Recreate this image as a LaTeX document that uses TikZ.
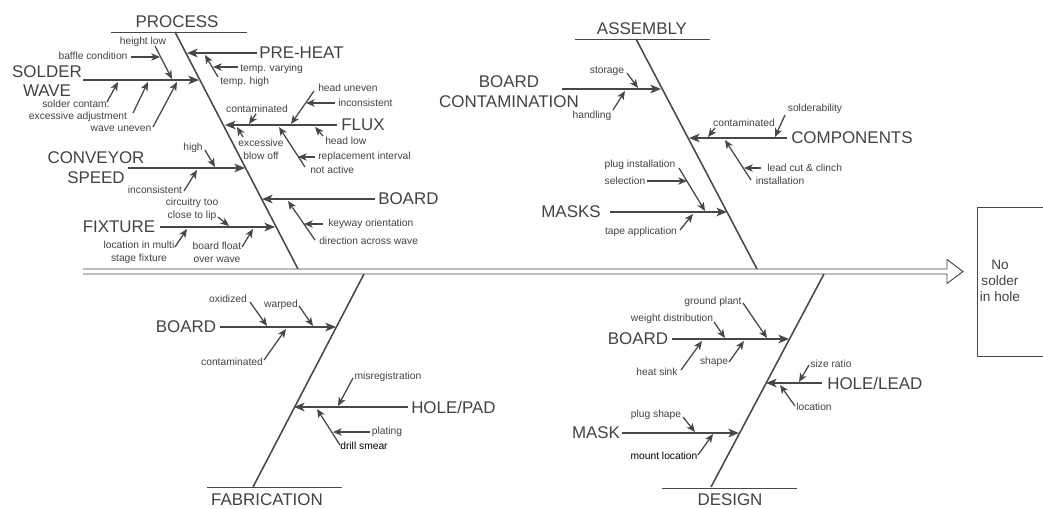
\documentclass[tikz,border=0pt]{standalone}
\usepackage{fontspec}
\setmainfont{Liberation Sans}
\usetikzlibrary{arrows.meta}
\definecolor{ink}{HTML}{424242}
\definecolor{bone}{HTML}{474747}

\tikzset{
  big/.style={font=\fontsize{12.7}{14.8}\selectfont, text=ink, inner sep=0pt, align=center},
  small/.style={font=\fontsize{7.7}{9.6}\selectfont, text=ink, inner sep=0pt, align=center},
  dark/.style={small, text=black},
  boxtext/.style={font=\fontsize{10.2}{12.2}\selectfont, text=ink, inner sep=0pt, align=center},
  mainbone/.style={draw=bone, line width=1.15pt},
  subbone/.style={draw=bone, line width=1.15pt, -{Stealth[length=8pt,width=6.5pt,inset=2.2pt]}},
  twig/.style={draw=bone, line width=0.95pt, -{Stealth[length=6.5pt,width=5.5pt,inset=1.8pt]}},
  rule/.style={draw=bone, line width=0.6pt},
  spine/.style={draw=bone, line width=0.7pt},
}

% arrow between two named coordinates: [style]{name}{start}{tip}
\newcommand\causearrow[4][twig]{%
  \coordinate (#2-s) at #3;\coordinate (#2-t) at #4;\draw[#1] (#2-s) -- (#2-t);}

\begin{document}
\begin{tikzpicture}[x=0.75pt,y=-0.75pt]
\useasboundingbox (0,0) rectangle (1043,508);
\clip (0,0) rectangle (1043,508);

% ---------- effect and spine ----------
\node[draw=bone, line width=0.6pt, anchor=north west, minimum width=75pt, minimum height=111.75pt, inner sep=0pt] (effect) at (977,207) {};
\node[boxtext] (effecttext) at (1000,281) {No\\solder\\in hole};
\coordinate (spL) at (83,271.5);
\coordinate (spTip) at (963,271.5);
\draw[spine] (83,269) -- (947,269) -- (947,259.5) -- (spTip) -- (947,283.5) -- (947,274) -- (83,274);

% ---------- PROCESS ----------
\node[big] (process) at (177,22) {PROCESS};
\coordinate (processRl) at (111,32); \coordinate (processRr) at (247,32);
\draw[rule] (processRl) -- (processRr);
\coordinate (procTop) at (175,32); \coordinate (procEnd) at (298,269);
\draw[mainbone] (procTop) -- (procEnd);

\node[big, anchor=west] (preheat) at (259,53) {PRE-HEAT};
\causearrow[subbone]{ph}{(257,53)}{(187,53)}
\node[small, anchor=west] (tvary) at (240,69) {temp. varying};
\node[small, anchor=west] (thigh) at (220,82) {temp. high};
\causearrow{thd}{(218,77)}{(205,55)}
\causearrow{tvd}{(238,67)}{(213,67)}

\node[big] (solderwave) at (47,81) {SOLDER\\WAVE};
\causearrow[subbone]{sw}{(83,80)}{(199,80)}
\node[small] (heightlow) at (143,42) {height low};
\node[small] (baffle) at (93,56) {baffle condition};
\causearrow{hl}{(155,46)}{(172,79)}
\causearrow{bc}{(131,57)}{(160,57)}
\node[small] (scontam) at (76,104) {solder contam.};
\node[small] (excadj) at (78,117) {excessive adjustment};
\node[small] (wavuneven) at (121,129) {wave uneven};
\causearrow{sc}{(107,102)}{(118,82)}
\causearrow{ea}{(133,113)}{(148,82)}
\causearrow{wu}{(153,127)}{(177,82)}

\node[big, anchor=west] (flux) at (341,125) {FLUX};
\causearrow[subbone]{fx}{(337,125)}{(225,125)}
\node[small] (fcontam) at (257,109) {contaminated};
\causearrow{fc}{(256,114)}{(249,124)}
\node[small] (blowoff) at (261,149) {excessive\\blow off};
\causearrow{bo}{(243,137)}{(237,127)}
\node[small, anchor=west] (headuneven) at (318,88) {head uneven};
\causearrow{hu}{(314,91)}{(291,124)}
\node[small, anchor=west] (finconsist) at (338,103) {inconsistent};
\causearrow{fi}{(335,103)}{(306,103)}
\node[small, anchor=west] (headlow) at (325,141) {head low};
\causearrow{hd}{(323,136)}{(315,127)}
\node[small, anchor=west] (notactive) at (310,170) {not active};
\causearrow{na}{(305,167)}{(279,127)}
\node[small, anchor=west] (replace) at (318,157) {replacement interval};
\causearrow{ri}{(315,157)}{(298,157)}

\node[big] (conveyor) at (96,168) {CONVEYOR\\SPEED};
\causearrow[subbone]{cv}{(128,168)}{(245,168)}
\node[small] (high) at (193,148) {high};
\causearrow{hi}{(205,150)}{(215,167)}
\node[small] (cinconsist) at (155,190) {inconsistent};
\causearrow{ci}{(184,191)}{(197,170)}

\node[big] (fixture) at (119,227) {FIXTURE};
\causearrow[subbone]{fi2}{(160,227)}{(275,227)}
\node[small] (circuitry) at (192,209) {circuitry too\\close to lip};
\causearrow{ct}{(218,217)}{(229,226)}
\node[small] (locmulti) at (139,252) {location in multi\\stage fixture};
\causearrow{lm}{(175,247)}{(187,229)}
\node[small] (boardfloat) at (217,252) {board float\\over wave};
\causearrow{bf}{(242,247)}{(253,229)}

\node[big, anchor=west] (pboard) at (378,199) {BOARD};
\causearrow[subbone]{pb}{(375,199)}{(262,199)}
\node[small, anchor=west] (keyway) at (328,224) {keyway orientation};
\causearrow{kw}{(323,224)}{(304,224)}
\node[small, anchor=west] (direction) at (319,241) {direction across wave};
\causearrow{dw}{(315,240)}{(288,201)}

% ---------- ASSEMBLY ----------
\node[big] (assembly) at (642,29) {ASSEMBLY};
\coordinate (asmRl) at (575,39); \coordinate (asmRr) at (710,39);
\draw[rule] (asmRl) -- (asmRr);
\coordinate (asmTop) at (636,39); \coordinate (asmEnd) at (757,269);
\draw[mainbone] (asmTop) -- (asmEnd);

\node[big] (boardcont) at (509,92) {BOARD\\CONTAMINATION};
\causearrow[subbone]{bcn}{(562,89)}{(661,89)}
\node[small] (storage) at (607,71) {storage};
\causearrow{st}{(627,73)}{(638,88)}
\node[small] (handling) at (592,116) {handling};
\causearrow{hn}{(613,110)}{(625,91)}

\node[big, anchor=west] (components) at (791,138) {COMPONENTS};
\causearrow[subbone]{cp}{(787,138)}{(689,138)}
\node[small] (solderab) at (815,109) {solderability};
\causearrow{sb}{(785,115)}{(775,137)}
\node[small] (acontam) at (744,123) {contaminated};
\causearrow{ac}{(715,128)}{(708,137)}
\node[small] (install) at (780,181) {installation};
\causearrow{in}{(751,180)}{(725,140)}
\node[small, anchor=west] (leadcut) at (767,168) {lead cut \& clinch};
\causearrow{lc}{(761,168)}{(744,168)}

\node[big] (masks) at (571,212) {MASKS};
\causearrow[subbone]{mk}{(610,212)}{(727,212)}
\node[small] (pluginst) at (640,165) {plug installation};
\causearrow{pi}{(679,168)}{(705,211)}
\node[small] (selection) at (625,181) {selection};
\causearrow{se}{(647,181)}{(687,181)}
\node[small] (tapeapp) at (641,232) {tape application};
\causearrow{ta}{(680,230)}{(693,214)}

% ---------- FABRICATION ----------
\node[big] (fabrication) at (267,500) {FABRICATION};
\coordinate (fabRl) at (207,487); \coordinate (fabRr) at (342,487);
\draw[rule] (fabRl) -- (fabRr);
\coordinate (fabBot) at (253,487); \coordinate (fabEnd) at (364,274);
\draw[mainbone] (fabBot) -- (fabEnd);

\node[big] (fboard) at (186,327) {BOARD};
\causearrow[subbone]{fb}{(220,327)}{(336,327)}
\node[small] (oxidized) at (228,299) {oxidized};
\causearrow{ox}{(250,302)}{(267,326)}
\node[small] (warped) at (281,305) {warped};
\causearrow{wp}{(299,306)}{(313,326)}
\node[small] (fbcontam) at (232,362) {contaminated};
\causearrow{fbc}{(264,360)}{(286,329)}

\node[big, anchor=west] (holepad) at (411,407) {HOLE/PAD};
\causearrow[subbone]{hp}{(408,407)}{(294,407)}
\node[small] (misreg) at (388,377) {misregistration};
\causearrow{mr}{(353,378)}{(338,406)}
\node[dark] (drill) at (364,446) {drill smear};
\causearrow{ds}{(340,445)}{(317,409)}
\node[small] (plating) at (387,432) {plating};
\causearrow{pl}{(370,432)}{(333,432)}

% ---------- DESIGN ----------
\node[big] (design) at (730,500) {DESIGN};
\coordinate (desRl) at (662,488); \coordinate (desRr) at (797,488);
\draw[rule] (desRl) -- (desRr);
\coordinate (desBot) at (711,487); \coordinate (desEnd) at (824,274);
\draw[mainbone] (desBot) -- (desEnd);

\node[big] (dboard) at (638,339) {BOARD};
\causearrow[subbone]{db}{(672,339)}{(789,339)}
\node[small] (ground) at (713,302) {ground plant};
\causearrow{gp}{(743,303)}{(767,338)}
\node[small] (weight) at (672,319) {weight distribution};
\causearrow{wd}{(714,322)}{(725,338)}
\node[small] (heatsink) at (657,372) {heat sink};
\causearrow{hs}{(681,370)}{(702,341)}
\node[small] (shape) at (714,362) {shape};
\causearrow{sh}{(729,362)}{(744,341)}

\node[big, anchor=west] (holelead) at (827,383) {HOLE/LEAD};
\causearrow[subbone]{hld}{(822,383)}{(766,383)}
\node[small] (sizeratio) at (831,364) {size ratio};
\causearrow{sr}{(809,365)}{(799,382)}
\node[small] (location) at (814,407) {location};
\causearrow{lo}{(795,406)}{(780,385)}

\node[big] (mask) at (596,433) {MASK};
\causearrow[subbone]{ms}{(622,433)}{(739,433)}
\node[small] (plugshape) at (656,415) {plug shape};
\causearrow{ps}{(683,417)}{(695,432)}
\node[dark] (mount) at (664,456) {mount location};
\causearrow{ml}{(698,455)}{(713,434)}

\end{tikzpicture}
\end{document}
